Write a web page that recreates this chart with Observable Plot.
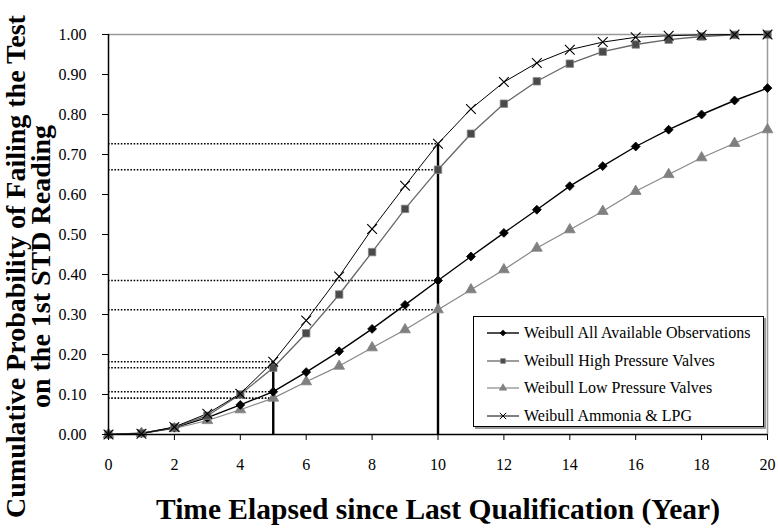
<!DOCTYPE html>
<html><head><meta charset="utf-8">
<script src="https://cdn.jsdelivr.net/npm/d3@7"></script>
<script src="https://cdn.jsdelivr.net/npm/@observablehq/plot@0.6"></script>
<style>
body{margin:0;background:#fff;}
#wrap{position:relative;width:778px;height:529px;}
#legend{position:absolute;left:473px;top:316px;width:291px;height:111px;border:1px solid #000;box-shadow:2px 2px 0 #999;background:#fff;font-family:"Liberation Serif","Times New Roman",serif;font-size:16px;color:#000;box-sizing:border-box;padding-top:2px;}
.row{height:27.7px;display:flex;align-items:center;white-space:nowrap;}
.row svg{margin-left:13px;margin-right:5px;}
</style></head><body><div id="wrap"></div>
<script>
const years = [0,1,2,3,4,5,6,7,8,9,10,11,12,13,14,15,16,17,18,19,20];
const seriesNames = ["Weibull All Available Observations","Weibull High Pressure Valves","Weibull Low Pressure Valves","Weibull Ammonia & LPG"];
const allObs   = [0,0.003,0.017,0.042,0.074,0.107,0.156,0.208,0.264,0.324,0.385,0.445,0.504,0.562,0.621,0.671,0.720,0.762,0.800,0.835,0.866];
const highP    = [0,0.003,0.018,0.047,0.100,0.167,0.253,0.350,0.456,0.564,0.662,0.752,0.827,0.883,0.927,0.957,0.975,0.987,0.995,0.999,1.000];
const lowP     = [0,0.003,0.015,0.035,0.062,0.091,0.132,0.171,0.217,0.262,0.312,0.362,0.412,0.466,0.512,0.558,0.608,0.650,0.692,0.728,0.762];
const ammonia  = [0,0.002,0.019,0.052,0.102,0.182,0.285,0.395,0.514,0.622,0.727,0.814,0.881,0.929,0.962,0.981,0.993,0.997,0.999,1.000,1.000];
const refYears = [5,10];
const yTicks = [0,0.1,0.2,0.3,0.4,0.5,0.6,0.7,0.8,0.9,1.0];
const xTicks = [0,2,4,6,8,10,12,14,16,18,20];
const xTitle = "Time Elapsed since Last Qualification (Year)";
const yTitle = "Cumulative Probability of Failing the Test\non the 1st STD Reading";

const seriesValues = [allObs, highP, lowP, ammonia];
const styles = [
  {stroke:"#000", line:1.4, symbol:"diamond2", fill:"#000", dotStroke:"#000", r:4},
  {stroke:"#666", line:1.3, symbol:"square", fill:"#4a4a4a", dotStroke:"#888", r:4.2},
  {stroke:"#888", line:1.2, symbol:"triangle", fill:"#808080", dotStroke:"#808080", r:4},
  {stroke:"#000", line:1, symbol:"times", fill:"none", dotStroke:"#000", r:4.5}
];
const rows = seriesNames.map((name,i)=>years.map((t,j)=>({series:name, t, p:seriesValues[i][j]})));
const refRows = [];
refYears.forEach(yr=>{
  const j = years.indexOf(yr);
  seriesValues.forEach(v=>refRows.push({yr, p:v[j]}));
});
const vRows = refYears.map(yr=>{const j=years.indexOf(yr); return {yr, top:d3.max(seriesValues,v=>v[j])};});

const drawOrder = [2,0,1,3];
const marks = [
  Plot.ruleY([1],{stroke:"#999",strokeWidth:1.5}),
  Plot.ruleX([20],{stroke:"#999",strokeWidth:1.5}),
  Plot.ruleY(refRows,{y:"p",x1:0,x2:"yr",stroke:"#000",strokeWidth:1.6,strokeDasharray:"1.6,1.6"}),
  Plot.ruleX(vRows,{x:"yr",y1:0,y2:"top",stroke:"#000",strokeWidth:2.4}),
];
drawOrder.forEach(i=>{
  const s=styles[i];
  marks.push(Plot.line(rows[i],{x:"t",y:"p",stroke:s.stroke,strokeWidth:s.line}));
});
drawOrder.forEach(i=>{
  const s=styles[i];
  marks.push(Plot.dot(rows[i],{x:"t",y:"p",symbol:()=>s.symbol,r:s.r,fill:s.fill,stroke:s.dotStroke,strokeWidth:s.symbol==="times"?1.1:0.8}));
});
marks.push(
  Plot.ruleX([0],{stroke:"#000",strokeWidth:1.5}),
  Plot.ruleY([0],{stroke:"#000",strokeWidth:1.5}),
  Plot.axisY({ticks:yTicks,tickFormat:d3.format(".2f"),tickSize:6,tickPadding:16,label:null,fontSize:16,stroke:"#000"}),
  Plot.axisX({ticks:xTicks,tickFormat:d=>String(d),tickSize:6,tickPadding:18,label:null,fontSize:16,stroke:"#000"}),
  Plot.text([xTitle],{frameAnchor:"bottom",dy:75,fontSize:29.5,fontWeight:"bold",textAnchor:"middle",lineAnchor:"middle"}),
  Plot.text([yTitle],{frameAnchor:"left",dx:-79,dy:32,rotate:-90,fontSize:28,fontWeight:"bold",textAnchor:"middle",lineAnchor:"middle",lineHeight:0.88})
);

const chart = Plot.plot({
  width:778, height:529,
  marginLeft:108, marginRight:11, marginTop:34, marginBottom:95,
  x:{domain:[0,20]},
  y:{domain:[0,1]},
  style:{fontFamily:"'Liberation Serif','Times New Roman',serif",fontSize:"16px",color:"#000",background:"#fff"},
  marks
});
const wrap = document.getElementById("wrap");
wrap.appendChild(chart);

const legend = document.createElement("div");
legend.id="legend";
seriesNames.forEach((name,i)=>{
  const s=styles[i];
  const row=document.createElement("div"); row.className="row";
  const svg=d3.create("svg").attr("width",32).attr("height",12);
  svg.append("line").attr("x1",0).attr("x2",32).attr("y1",6).attr("y2",6).attr("stroke",s.stroke).attr("stroke-width",s.line);
  const symMap={diamond2:d3.symbolDiamond2,square:d3.symbolSquare,triangle:d3.symbolTriangle,times:d3.symbolTimes};
  svg.append("path").attr("d",d3.symbol(symMap[s.symbol],s.symbol==="times"?28:24)()).attr("transform","translate(16,6)")
    .attr("fill",s.fill).attr("stroke",s.dotStroke).attr("stroke-width",s.symbol==="times"?1:0.6);
  row.appendChild(svg.node());
  const span=document.createElement("span"); span.textContent=name; row.appendChild(span);
  legend.appendChild(row);
});
wrap.appendChild(legend);
</script></body></html>
